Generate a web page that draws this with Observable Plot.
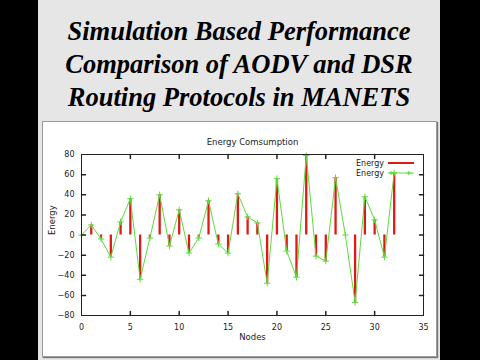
<!DOCTYPE html>
<html>
<head>
<meta charset="utf-8">
<script src="https://cdn.jsdelivr.net/npm/d3@7"></script>
<script src="https://cdn.jsdelivr.net/npm/@observablehq/plot@0.6"></script>
<style>
  html, body { margin: 0; padding: 0; background: #000; width: 480px; height: 360px; overflow: hidden; }
  #bg { position: absolute; left: 38px; top: 0; width: 402px; height: 360px; background: #e6e6e6; }
  #title { position: absolute; left: 38px; top: 15px; width: 402px; text-align: center;
    font-family: "Liberation Serif", "Times New Roman", serif; font-weight: bold; font-style: italic;
    font-size: 26.5px; line-height: 33px; color: #000; }
  #panel { position: absolute; left: 42px; top: 121px; width: 393px; height: 234px; background: #fff;
    border: 1px solid #9a9a9a; box-shadow: 1px 1px 1px #777; }
  #chart { position: absolute; left: 43px; top: 122px; }
  #legend { position: absolute; left: 356px; top: 158px; font-family: "DejaVu Sans", sans-serif; font-size: 8px; color: #222; }
  #legend .row { height: 10px; display: flex; align-items: center; justify-content: flex-end; }
  #legend svg { margin-left: 4px; }
</style>
</head>
<body>
<div id="bg"></div>
<div id="title">Simulation Based Performance<br>Comparison of AODV and DSR<br>Routing Protocols in MANETS</div>
<div id="panel"></div>
<div id="chart"></div>
<div id="legend"></div>
<script>
const chartTitle = "Energy Comsumption";
const xLabel = "Nodes";
const yLabel = "Energy";
const seriesNames = ["Energy", "Energy"];
const nodes = [0,1,2,3,4,5,6,7,8,9,10,11,12,13,14,15,16,17,18,19,20,21,22,23,24,25,26,27,28,29,30,31,32];
const energy = [0,10,-4,-22,13,36,-44,-3,40,-11,25,-18,-3,34,-9,-18,41,18,12,-48,56,-16,-42,79,-21,-26,57,0,-67,38,15,-22,62];
const xTicks = [0,5,10,15,20,25,30,35];
const yTicks = [-80,-60,-40,-20,0,20,40,60,80];

const redColor = "#e01818";
const greenColor = "#5cdc3c";
const data = nodes.map((n, i) => ({node: n, value: energy[i]}));

const tickShape = {draw(context, l) { context.moveTo(0, 0); context.lineTo(0, -l); }};

const plot = Plot.plot({
  width: 394,
  height: 235,
  marginLeft: 38,
  marginRight: 14,
  marginTop: 32,
  marginBottom: 42,
  style: {fontFamily: "DejaVu Sans, sans-serif", fontSize: "8px", color: "#222", background: "transparent"},
  x: {domain: [0, 35]},
  y: {domain: [-80, 80]},
  marks: [
    Plot.ruleX(data.filter(d => d.value !== 0), {x: "node", y1: 0, y2: "value", stroke: redColor, strokeWidth: 2.3}),
    Plot.line(data, {x: "node", y: "value", stroke: greenColor, strokeWidth: 1}),
    Plot.dot(data, {x: "node", y: "value", symbol: "plus", r: 2.2, stroke: greenColor, strokeWidth: 1}),
    Plot.frame({stroke: "#222"}),
    Plot.axisX({ticks: xTicks, tickSize: 0, tickPadding: 9, label: null, fill: "#222"}),
    Plot.axisY({ticks: yTicks, tickSize: 0, tickPadding: 7, label: null, fill: "#222"}),
    Plot.vector(xTicks.slice(1, -1), {x: d => d, frameAnchor: "bottom", length: 4, rotate: 0, anchor: "start", shape: tickShape, stroke: "#222"}),
    Plot.vector(xTicks.slice(1, -1), {x: d => d, frameAnchor: "top", length: 4, rotate: 180, anchor: "start", shape: tickShape, stroke: "#222"}),
    Plot.vector(yTicks.slice(1, -1), {y: d => d, frameAnchor: "left", length: 4, rotate: 90, anchor: "start", shape: tickShape, stroke: "#222"}),
    Plot.vector(yTicks.slice(1, -1), {y: d => d, frameAnchor: "right", length: 4, rotate: -90, anchor: "start", shape: tickShape, stroke: "#222"}),
    Plot.text([chartTitle], {frameAnchor: "top", dy: -16, fill: "#222", fontSize: 8.5}),
    Plot.text([xLabel], {frameAnchor: "bottom", dy: 24, fill: "#222", fontSize: 8.5}),
    Plot.text([yLabel], {frameAnchor: "left", dx: -29, rotate: -90, fill: "#222", fontSize: 8.5})
  ]
});
document.getElementById("chart").appendChild(plot);

const legend = document.getElementById("legend");
legend.innerHTML =
  `<div class="row"><span>${seriesNames[0]}</span><svg width="26" height="6"><line x1="0" y1="3" x2="26" y2="3" stroke="${redColor}" stroke-width="2"/></svg></div>` +
  `<div class="row"><span>${seriesNames[1]}</span><svg width="26" height="6"><line x1="0" y1="3" x2="26" y2="3" stroke="${greenColor}" stroke-width="1"/>` +
  `<path d="M3,0.8V5.2M0.8,3H5.2M20.8,0.8V5.2M18.6,3H23" stroke="${greenColor}" stroke-width="1"/></svg></div>`;
</script>
</body>
</html>
